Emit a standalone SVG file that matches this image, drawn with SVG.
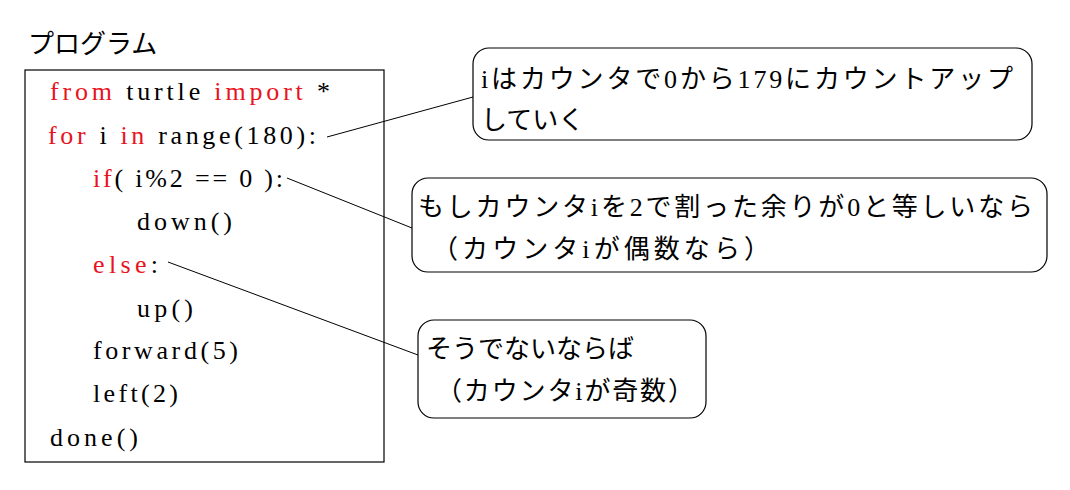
<svg xmlns="http://www.w3.org/2000/svg" width="1070" height="490" viewBox="0 0 1070 490">
<style>
text{font-family:"Liberation Serif","Noto Sans CJK JP",serif;font-size:26px;fill:#000}
.r{fill:#e8141e}
.box{fill:#fff;stroke:#000;stroke-width:1.2}
line{stroke:#000;stroke-width:1}
</style>
<rect width="1070" height="490" fill="#fff"/>
<g id="title"><text x="28" y="53">プログラム</text></g>
<g id="code">
<rect x="25" y="70" width="359" height="392" fill="#fff" stroke="#000" stroke-width="1.2"/>
<text x="50" y="100" textLength="280" lengthAdjust="spacing"><tspan class="r">from</tspan> turtle  <tspan class="r">import</tspan> *</text>
<text x="48" y="144" textLength="268" lengthAdjust="spacing"><tspan class="r">for</tspan> i <tspan class="r">in</tspan> range(180):</text>
<text x="93" y="187" textLength="190" lengthAdjust="spacing"><tspan class="r">if</tspan>( i%2 == 0 ):</text>
<text x="137" y="230" textLength="95" lengthAdjust="spacing">down()</text>
<text x="93" y="273" textLength="65" lengthAdjust="spacing"><tspan class="r">else</tspan>:</text>
<text x="137" y="317" textLength="56" lengthAdjust="spacing">up()</text>
<text x="93" y="359" textLength="145" lengthAdjust="spacing">forward(5)</text>
<text x="93" y="402" textLength="85" lengthAdjust="spacing">left(2)</text>
<text x="50" y="446" textLength="88" lengthAdjust="spacing">done()</text>
</g>
<g id="connectors">
<line x1="327" y1="137" x2="473" y2="97"/>
<line x1="287" y1="178" x2="412" y2="228"/>
<line x1="168" y1="262" x2="418" y2="355"/>
</g>
<g id="note1"><rect class="box" x="473" y="48" width="559" height="92" rx="16"/>
<text x="481" y="88" textLength="532" lengthAdjust="spacing">iはカウンタで0から179にカウントアップ</text>
<text x="481" y="129">していく</text></g>
<g id="note2"><rect class="box" x="412" y="178" width="635" height="94" rx="16"/>
<text x="418" y="216" textLength="615" lengthAdjust="spacing">もしカウンタiを2で割った余りが0と等しいなら</text>
<text x="432" y="258" textLength="338" lengthAdjust="spacing">（カウンタiが偶数なら）</text></g>
<g id="note3"><rect class="box" x="418" y="320" width="288" height="98" rx="16"/>
<text x="426" y="358">そうでないならば</text>
<text x="436" y="400" textLength="258" lengthAdjust="spacing">（カウンタiが奇数）</text></g>
</svg>
